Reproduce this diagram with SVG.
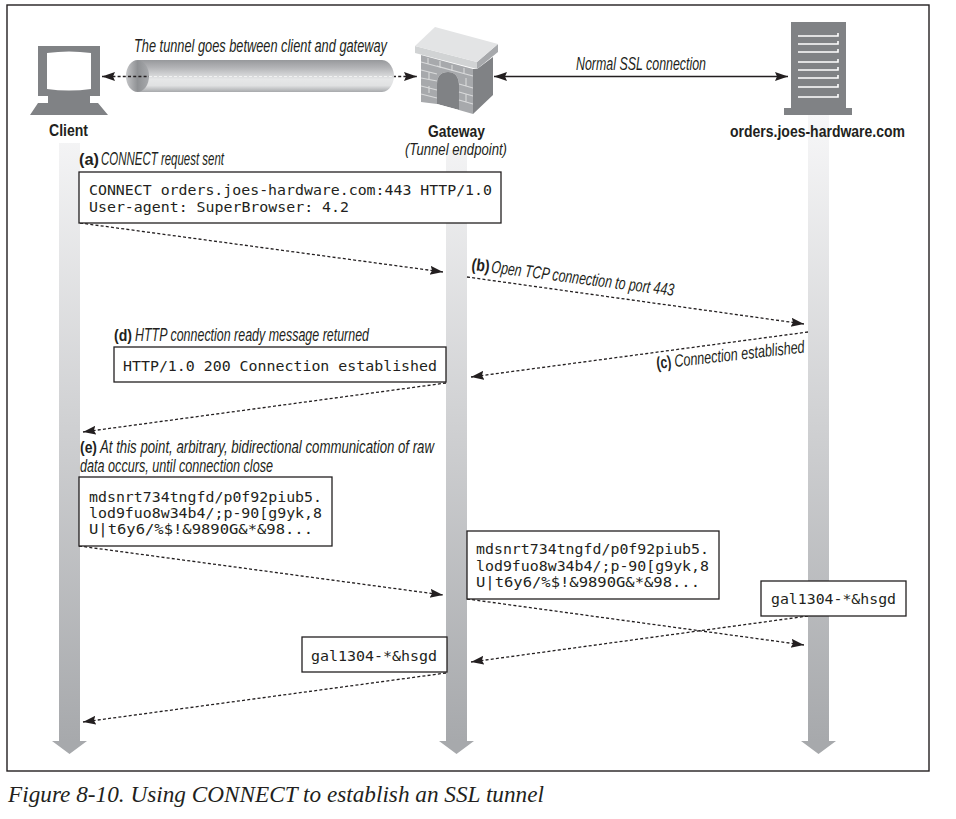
<svg xmlns="http://www.w3.org/2000/svg" width="956" height="819" viewBox="0 0 956 819">
<style>
text{fill:#231f20;font-family:"Liberation Sans",Arial,sans-serif}
.i{font-style:italic;font-size:17.5px}
.b{font-weight:bold;font-size:17px}
.m{font-family:"DejaVu Sans Mono","Liberation Mono",monospace;font-size:14.6px}
.box{fill:#fff;stroke:#231f20;stroke-width:1.3}
.d{fill:none;stroke:#231f20;stroke-width:1.3;stroke-dasharray:3 2.2}
.g{fill:#808285}
.w{fill:none;stroke:#fff;stroke-width:1.6}
.br{fill:none;stroke:#d9dadb;stroke-width:1.1}
</style>
<defs>
<linearGradient id="life" gradientUnits="userSpaceOnUse" x1="0" y1="115" x2="0" y2="741"><stop offset="0" stop-color="#f7f7f8"/><stop offset="1" stop-color="#a7a9ac"/></linearGradient>
<linearGradient id="tube" x1="0" y1="0" x2="0" y2="1"><stop offset="0" stop-color="#97999c"/><stop offset=".25" stop-color="#b4b5b8"/><stop offset=".6" stop-color="#e6e7e8"/><stop offset=".8" stop-color="#e0e1e2"/><stop offset="1" stop-color="#a7a9ac"/></linearGradient>
<linearGradient id="end" x1="0" y1="0" x2="1" y2="0"><stop offset="0" stop-color="#c4c5c7"/><stop offset=".5" stop-color="#8f9194"/><stop offset="1" stop-color="#a7a9ac"/></linearGradient>
<marker id="a" markerUnits="userSpaceOnUse" markerWidth="14" markerHeight="10" refX="13" refY="4.500" orient="auto-start-reverse"><path d="M0,0L13,4.500L0,9L2,4.500Z" fill="#231f20"/></marker>
</defs>
<rect id="frame" x="7" y="5" width="922" height="766" fill="#fff" stroke="#231f20" stroke-width="1.4"/>
<g id="lifelines" fill="url(#life)">
<path d="M59,143H80V741H87L69.500,754L52,741H59Z"/>
<path d="M446,150H467V741H474L456.500,754L439,741H446Z"/>
<path d="M808,115H829V741H836L818.500,754L801,741H808Z"/>
</g>
<g id="connectors">
<path d="M393,76.500H417" class="d" marker-end="url(#a)"/>
<path d="M494,76.500H788" fill="none" stroke="#231f20" stroke-width="1.300" marker-start="url(#a)" marker-end="url(#a)"/>
<path d="M80,223L443,272" class="d" marker-end="url(#a)"/>
<path d="M467,277L804,324" class="d" marker-end="url(#a)"/>
<path d="M808,332L471,377" class="d" marker-end="url(#a)"/>
<path d="M446,383L83,432" class="d" marker-end="url(#a)"/>
<path d="M79,546L443,595" class="d" marker-end="url(#a)"/>
<path d="M467,599L804,645" class="d" marker-end="url(#a)"/>
<path d="M808,616L471,662" class="d" marker-end="url(#a)"/>
<path d="M446,673L83,722" class="d" marker-end="url(#a)"/>
</g>
<g id="tunnel">
<path d="M138,60H382C390,60 394,70 394,76C394,82 390,92 382,92H138Z" fill="url(#tube)"/>
<ellipse cx="137.500" cy="76" rx="11.500" ry="16" fill="url(#end)"/>
<path d="M149,76.500H393" fill="none" stroke="#f1f2f2" stroke-width="1" stroke-dasharray="3 2"/>
<path d="M102,76.500H149" class="d" marker-start="url(#a)"/>
<text class="i" x="134" y="52" textLength="253" lengthAdjust="spacingAndGlyphs">The tunnel goes between client and gateway</text>
</g>
<g id="client">
<path class="g" d="M38,46H100V96H90V103H98L108,115H30L38,103H48V96H38Z"/>
<path d="M47,53Q69,50 91,53V89Q69,92 47,89Z" fill="#fff"/>
<text class="b" x="49" y="136" textLength="39" lengthAdjust="spacingAndGlyphs">Client</text>
</g>
<g id="gateway">
<path d="M421,55L473,69V114L459,110V84Q458,72 448,72Q437,72 437,84V104L421,102Z" fill="#a7a9ac"/>
<path d="M437,104V84Q437,72 448,72Q458,72 459,84V110Z" fill="#808285"/>
<path d="M437,104L459,110V111L437,105Z" fill="#fff"/>
<path class="br" d="M421,62L473,76M421,70L437,74M421,78L437,81M421,86L437,90M421,94L437,98M459,84L473,88M459,92L473,96M459,100L473,104M437,66L469,75M428,58V64M440,61V68M452,65V71M464,68V74M429,72V79M429,86V93M466,78V86M466,94V102"/>
<path d="M473,69L477,69L493,57V95L473,114Z" fill="#808285"/>
<path d="M415,46L477,62V69L415,53Z" fill="#d1d3d4"/>
<path d="M477,62L498,44V52L477,69Z" fill="#a7a9ac"/>
<path d="M435,27L498,44L477,62L415,46Z" fill="#e3e4e5"/>
<text class="b" x="428" y="136.500" textLength="57" lengthAdjust="spacingAndGlyphs">Gateway</text>
<text class="i" x="405" y="154.500" style="font-size:16.5px" textLength="102" lengthAdjust="spacingAndGlyphs">(Tunnel endpoint)</text>
</g>
<g id="server">
<path class="g" d="M791,22H846V108H852V115H784V108H791Z"/>
<path class="w" d="M798,36H838V33M798,44H838V41M798,52H838V49M798,62H838V59M798,70H838V67M798,78H838V75M798,87H838V84M798,97H838V94"/>
<text class="b" x="730" y="137" textLength="175" lengthAdjust="spacingAndGlyphs">orders.joes-hardware.com</text>
</g>
<g id="labels">
<text class="i" x="576" y="70" textLength="130" lengthAdjust="spacingAndGlyphs">Normal SSL connection</text>
<text class="b" x="79" y="165" textLength="20" lengthAdjust="spacingAndGlyphs">(a)</text>
<text class="i" x="101" y="165" textLength="123" lengthAdjust="spacingAndGlyphs">CONNECT request sent</text>
<g transform="translate(471,270) rotate(7.300)">
<text class="b" x="0" y="0" textLength="18" lengthAdjust="spacingAndGlyphs">(b)</text>
<text class="i" x="20" y="0" textLength="184" lengthAdjust="spacingAndGlyphs">Open TCP connection to port 443</text>
</g>
<g transform="translate(657,369) rotate(-6.400)">
<text class="b" x="0" y="0" textLength="15" lengthAdjust="spacingAndGlyphs">(c)</text>
<text class="i" x="18" y="0" textLength="131" lengthAdjust="spacingAndGlyphs">Connection established</text>
</g>
<text class="b" x="114" y="341" textLength="18" lengthAdjust="spacingAndGlyphs">(d)</text>
<text class="i" x="135" y="341" textLength="234" lengthAdjust="spacingAndGlyphs">HTTP connection ready message returned</text>
<text class="b" x="80" y="453" textLength="17" lengthAdjust="spacingAndGlyphs">(e)</text>
<text class="i" x="100" y="453" textLength="334" lengthAdjust="spacingAndGlyphs">At this point, arbitrary, bidirectional communication of raw</text>
<text class="i" x="80" y="472" textLength="193" lengthAdjust="spacingAndGlyphs">data occurs, until connection close</text>
</g>
<g id="msg-a">
<rect class="box" x="79" y="172" width="422" height="51"/>
<text class="m" x="89" y="195" textLength="403" lengthAdjust="spacingAndGlyphs">CONNECT orders.joes-hardware.com:443 HTTP/1.0</text>
<text class="m" x="89" y="212" textLength="260" lengthAdjust="spacingAndGlyphs">User-agent: SuperBrowser: 4.2</text>
</g>
<g id="msg-d">
<rect class="box" x="114" y="347" width="332" height="35"/>
<text class="m" x="123" y="371" textLength="314" lengthAdjust="spacingAndGlyphs">HTTP/1.0 200 Connection established</text>
</g>
<g id="msg-e">
<rect class="box" x="79" y="477" width="253" height="69"/>
<text class="m" x="89" y="502" textLength="233" lengthAdjust="spacingAndGlyphs">mdsnrt734tngfd/p0f92piub5.</text>
<text class="m" x="89" y="518" textLength="233" lengthAdjust="spacingAndGlyphs">lod9fuo8w34b4/;p-90[g9yk,8</text>
<text class="m" x="89" y="534" textLength="224" lengthAdjust="spacingAndGlyphs">U|t6y6/%$!&amp;9890G&amp;*&amp;98...</text>
</g>
<g id="msg-f">
<rect class="box" x="467" y="531" width="252" height="68"/>
<text class="m" x="476" y="554" textLength="233" lengthAdjust="spacingAndGlyphs">mdsnrt734tngfd/p0f92piub5.</text>
<text class="m" x="476" y="570.500" textLength="233" lengthAdjust="spacingAndGlyphs">lod9fuo8w34b4/;p-90[g9yk,8</text>
<text class="m" x="476" y="587" textLength="224" lengthAdjust="spacingAndGlyphs">U|t6y6/%$!&amp;9890G&amp;*&amp;98...</text>
</g>
<g id="msg-g">
<rect class="box" x="761" y="581" width="145" height="35"/>
<text class="m" x="771" y="604" textLength="125" lengthAdjust="spacingAndGlyphs">gal1304-*&amp;hsgd</text>
</g>
<g id="msg-h">
<rect class="box" x="302" y="637" width="145" height="35"/>
<text class="m" x="311" y="661" textLength="126" lengthAdjust="spacingAndGlyphs">gal1304-*&amp;hsgd</text>
</g>
<text id="caption" x="8" y="802" style="font-family:'Liberation Serif',serif;font-style:italic;font-size:24px" textLength="536" lengthAdjust="spacingAndGlyphs">Figure 8-10. Using CONNECT to establish an SSL tunnel</text>
</svg>
